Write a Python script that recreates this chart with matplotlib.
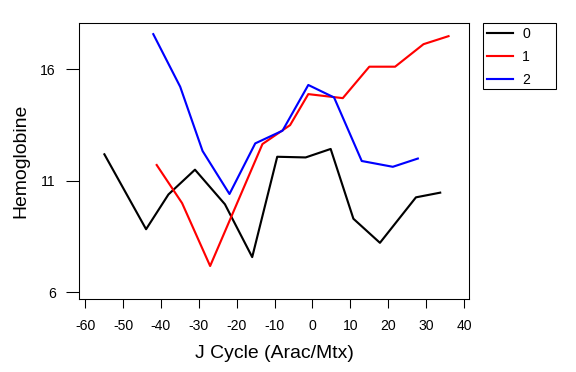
"""Hemoglobine over J cycle, three groups."""

import matplotlib
matplotlib.use("Agg")
import matplotlib.pyplot as plt
from matplotlib.patches import Rectangle

plt.rcParams["font.family"] = ["Liberation Sans", "DejaVu Sans"]
plt.rcParams["axes.unicode_minus"] = False

group_labels = ["0", "1", "2"]
group_colors = ["black", "red", "blue"]

x0 = [-54.9, -43.9, -38.0, -31.0, -23.1, -15.9, -9.3, -1.8, 4.8, 10.8, 17.8, 27.3, 33.7]
y0 = [12.19, 8.83, 10.39, 11.5, 9.95, 7.58, 12.08, 12.05, 12.43, 9.3, 8.22, 10.26, 10.47]

x1 = [-41.1, -34.4, -27.0, -13.2, -5.9, -1.1, 8.0, 15.0, 21.8, 29.3, 35.9]
y1 = [11.71, 10.0, 7.18, 12.65, 13.5, 14.89, 14.71, 16.12, 16.12, 17.13, 17.49]

x2 = [-42.0, -34.9, -29.0, -21.9, -15.1, -7.9, -1.1, 5.7, 13.0, 21.2, 27.8]
y2 = [17.58, 15.22, 12.34, 10.41, 12.68, 13.25, 15.3, 14.74, 11.89, 11.63, 12.0]

xticks = list(range(-60, 41, 10))
yticks = [6, 11, 16]

W, H = 576, 372
fig = plt.figure(figsize=(W / 96, H / 96), dpi=96)
ax = fig.add_axes([79 / W, 1 - 299 / H, 390 / W, 276 / H])

series = [(x0, y0), (x1, y1), (x2, y2)]
for (xs, ys), lab, col in zip(series, group_labels, group_colors):
    ax.plot(xs, ys, color=col, lw=1.6, label=lab)

ax.set_xlim(-61.6, 41.3)
ax.set_ylim(5.7, 18.08)
ax.set_xticks(xticks)
ax.set_yticks(yticks)
ax.tick_params(direction="out", width=0.8, labelsize=10.5)
ax.tick_params(axis="x", length=6.5, pad=8.5)
ax.tick_params(axis="y", length=9.5, pad=8)
for s in ax.spines.values():
    s.set_linewidth(0.8)
ax.set_xlabel("J Cycle (Arac/Mtx)", fontsize=14.5, labelpad=9)
ax.set_ylabel("Hemoglobine", fontsize=14.5, labelpad=8)

# legend box drawn separately: R leaves extra room right of the labels
fig.patches.append(Rectangle((483 / W, 1 - 89 / H), 73 / W, 66 / H,
                             transform=fig.transFigure, fill=False,
                             edgecolor="black", lw=0.8))
ax.legend(loc="upper left", bbox_to_anchor=(483 / W, 1 - 23 / H),
          bbox_transform=fig.transFigure, frameon=False, fontsize=10.5,
          handlelength=1.85, handletextpad=0.65, borderpad=0.3,
          labelspacing=0.62, borderaxespad=0)

fig.savefig("out.png", dpi=96)
